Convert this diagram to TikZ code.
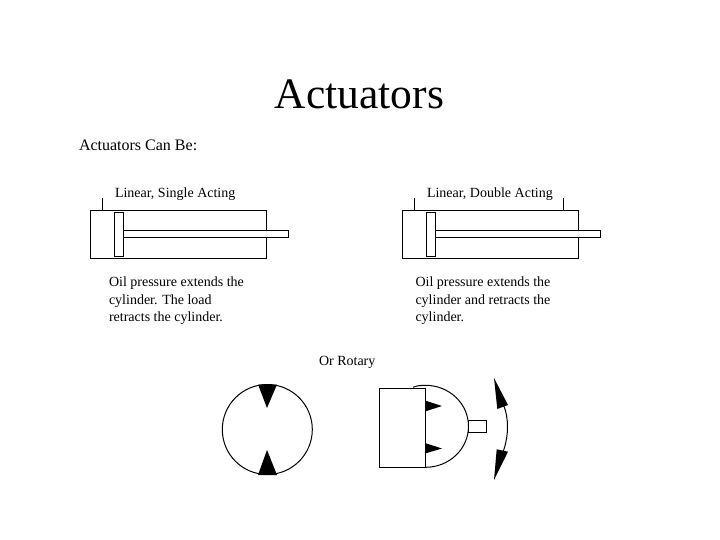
\documentclass[tikz,border=0pt]{standalone}
\usepackage{fontspec}
\setmainfont{Liberation Serif}
\tikzset{
  every path/.style={line width=1pt},
  ink/.style={draw=black,line width=1pt},
  solid tip/.style={fill=black,draw=none},
  txt/.style={inner sep=0pt,outer sep=0pt,anchor=base west,font=\fontsize{14}{17.5}\selectfont},
  para/.style={inner sep=0pt,outer sep=0pt,anchor=north west,align=left,font=\fontsize{14}{17.5}\selectfont}
}
\begin{document}
\begin{tikzpicture}[x=1pt,y=-1pt]
\useasboundingbox (0,0) rectangle (720,540);
\fill[white] (0,0) rectangle (720,540);
\node[inner sep=0pt,anchor=base] (title) at (359.5,109) {\fontsize{43.5}{50}\selectfont Actuators};
\node[txt,font=\fontsize{16}{18}\selectfont] (can) at (79,151) {Actuators Can Be:};
\node[txt] (lsa) at (115,197) {Linear, Single Acting};
\node[txt] (lda) at (427,197) {Linear, Double Acting};
\node[para] (ltext) at (109,277) {Oil pressure extends the\\cylinder. The load\\retracts the cylinder.};
\node[para] (rtext) at (415.5,277) {Oil pressure extends the\\cylinder and retracts the\\cylinder.};
\node[txt] (rot) at (319,365) {Or Rotary};
% left cylinder
\draw[ink] (102.5,198) -- (102.5,210.5);
\draw[ink] (90.5,210.5) rectangle (266.5,258.5);
\draw[ink,fill=white] (123.5,230.5) rectangle (288.5,237.5);
\draw[ink,fill=white] (114.5,212.5) rectangle (123.5,256.5);
% right cylinder
\draw[ink] (414.5,198) -- (414.5,210.5);
\draw[ink] (563.5,198) -- (563.5,210.5);
\draw[ink] (402.5,210.5) rectangle (578.5,258.5);
\draw[ink,fill=white] (435.5,230.5) rectangle (600.5,237.5);
\draw[ink,fill=white] (426.5,212.5) rectangle (435.5,256.5);
% rotary circle
\draw[ink] (267.3,429.5) circle [radius=45];
\fill[solid tip] (258,384.5) -- (277,384.5) -- (267,408) -- cycle;
\fill[solid tip] (258,475) -- (277,475) -- (267,450) -- cycle;
% rotary actuator
\draw[ink] (413,387.2) .. controls (418,385.5) and (421,385.3) .. (425.5,385.3)
  arc [start angle=-90,end angle=90,x radius=43,y radius=41];
\draw[ink,fill=white] (379.5,388.5) rectangle (425.5,467.5);
\fill[solid tip] (425,400.5) -- (442,406) -- (425,411.5) -- cycle;
\fill[solid tip] (425,443) -- (442,448.5) -- (425,453.5) -- cycle;
\draw[ink,fill=white] (468.5,420.5) rectangle (486.5,432.5);
\draw[ink] (503.5,405) .. controls (506.5,412) and (507.5,420) .. (507.5,427) .. controls (507.5,435) and (506,444) .. (503,452);
\fill[solid tip] (494,378) -- (508,405) -- (497.3,409) -- cycle;
\fill[solid tip] (494,480) -- (508,451.7) -- (496.7,449.3) -- cycle;
\end{tikzpicture}
\end{document}
